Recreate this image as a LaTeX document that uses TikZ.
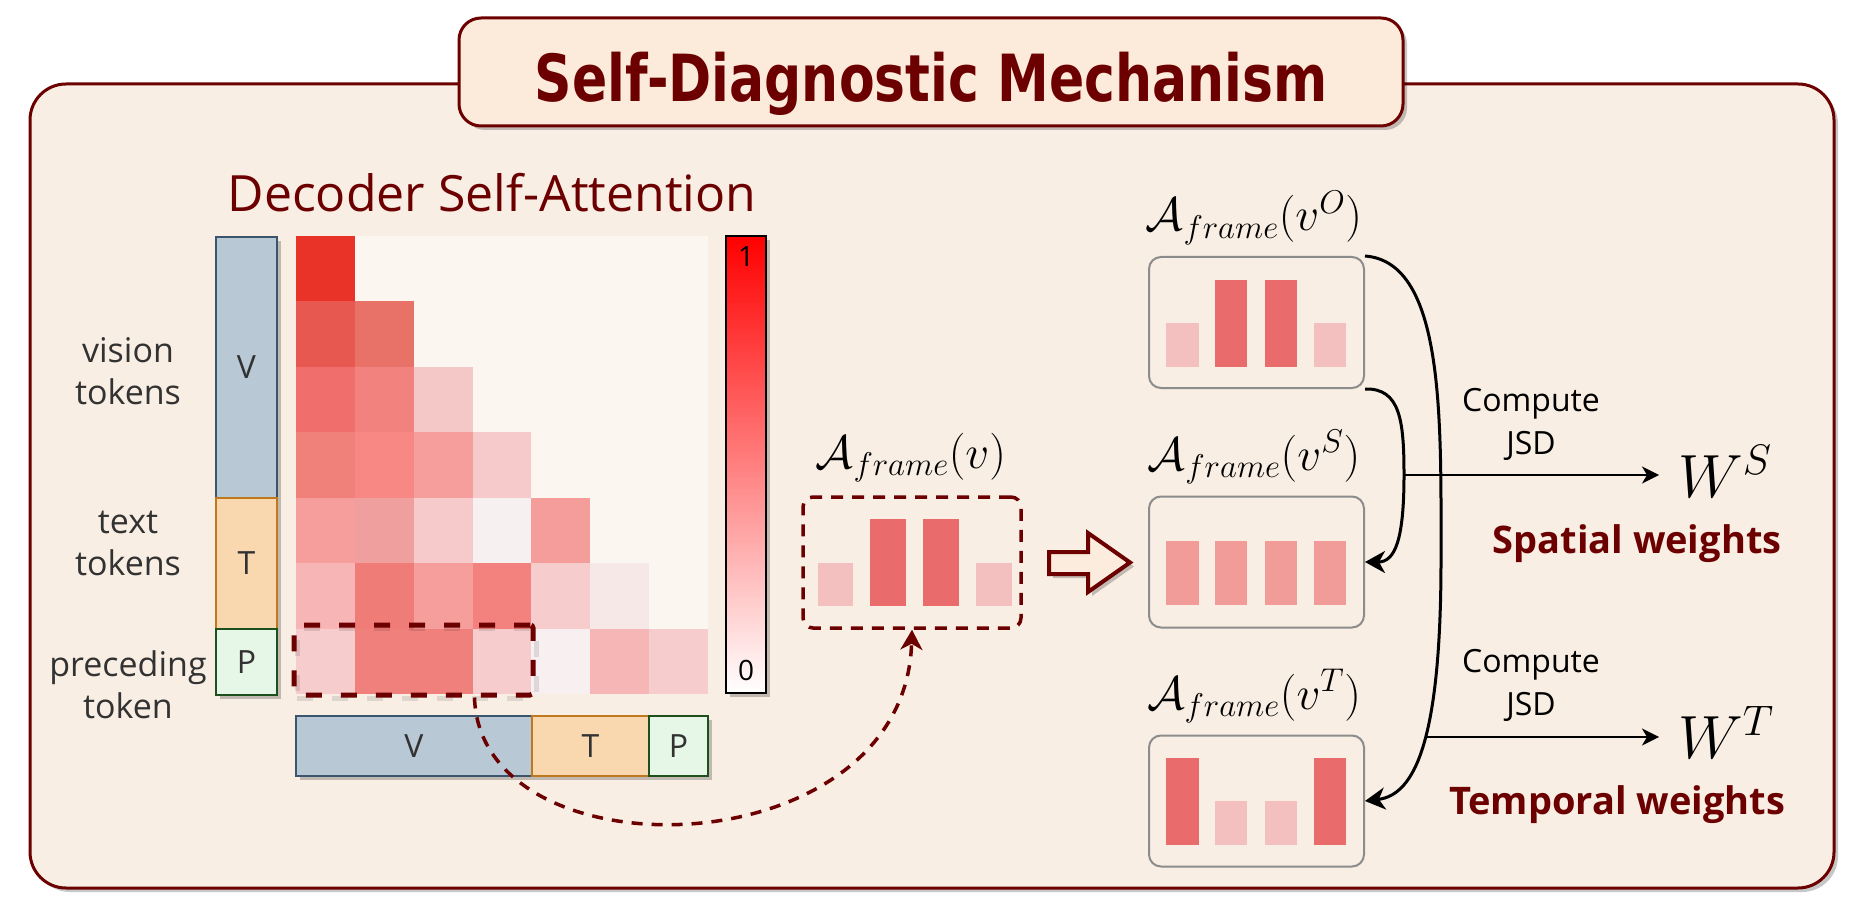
\RequirePackage{fix-cm}
\documentclass[tikz,border=0pt]{standalone}
\usepackage{fontspec}
\usepackage{graphicx}
\usetikzlibrary{arrows.meta,shadows,calc}
\newfontfamily\comic{Open Sans}
\newfontfamily\ttlfont{DejaVu Sans}
\definecolor{dred}{RGB}{108,0,0}
\definecolor{bgc}{RGB}{248,238,228}
\definecolor{ttlfill}{RGB}{252,235,218}
\definecolor{mbg}{RGB}{252,246,240}
\definecolor{vfill}{RGB}{184,200,212}
\definecolor{vline}{RGB}{60,85,110}
\definecolor{tfill}{RGB}{249,216,176}
\definecolor{tline}{RGB}{190,120,30}
\definecolor{pfill}{RGB}{230,247,232}
\definecolor{pline}{RGB}{30,80,30}
\definecolor{bdark}{RGB}{234,107,107}
\definecolor{blight}{RGB}{244,191,191}
\definecolor{bmed}{RGB}{241,156,152}
\definecolor{txtgray}{RGB}{50,50,50}
\definecolor{rboxline}{RGB}{140,140,140}
\definecolor{harrowfill}{RGB}{251,236,222}
\begin{document}
\begin{tikzpicture}[x=1pt,y=-1pt,
  sh/.style={drop shadow={shadow xshift=4pt,shadow yshift=-4pt,opacity=0.22,fill=black}},
  tokbar/.style={draw=#1line,fill=#1fill,line width=2pt,sh,inner sep=0,text=txtgray,
     font=\comic\fontsize{32}{36}\selectfont},
  sidelbl/.style={align=center,text=txtgray,font=\comic\fontsize{34}{42}\selectfont},
  rbox/.style={draw=rboxline,fill=bgc,line width=2pt,rounded corners=12pt,
     minimum width=215pt,minimum height=131pt,inner sep=0},
  mathlbl/.style={anchor=base,inner sep=0,font=\fontsize{47}{52}\selectfont},
  curv/.style={line width=3pt,-{Stealth[length=20pt,width=22pt,inset=6pt]}},
  harrow/.style={line width=2pt,-{Stealth[length=17pt,width=17pt,inset=5pt]}},
  cjsd/.style={align=center,font=\comic\fontsize{32}{43}\selectfont},
  wlbl/.style={text=dred,font=\comic\bfseries\fontsize{38}{44}\selectfont},
]
\useasboundingbox (0,0) rectangle (1876,917);
% outer frame
\node[draw=dred,line width=3pt,fill=bgc,rounded corners=36pt,minimum width=1804pt,
  minimum height=804pt,sh,inner sep=0] (outer) at (932,486) {};
% title
\node[draw=dred,line width=3pt,fill=ttlfill,rounded corners=22pt,minimum width=944pt,
  minimum height=108pt,sh,inner sep=0] (titlebox) at (931,72) {};
\node[anchor=base,text=dred,inner sep=0,font=\ttlfont\bfseries\fontsize{65}{70}\selectfont]
  (title) at (931,102) {\scalebox{0.8}[1]{Self-Diagnostic Mechanism}};
% heading
\node[anchor=base,text=dred,inner sep=0,font=\comic\fontsize{50}{60}\selectfont]
  (dsa) at (492,212) {Decoder Self-Attention};
% heatmap
\fill[mbg] (296,236) rectangle (708,694);
\foreach \ci/\ri/\vr/\vg/\vb in {
 0/0/233/50/40,
 0/1/231/88/80, 1/1/233/114/104,
 0/2/240/110/108, 1/2/242/130/125, 2/2/245/200/200,
 0/3/240/128/122, 1/3/247/136/132, 2/3/246/158/155, 3/3/246/202/202,
 0/4/246/158/155, 1/4/239/160/158, 2/4/246/202/202, 3/4/247/240/240, 4/4/245/157/155,
 0/5/247/182/181, 1/5/240/124/120, 2/5/246/158/156, 3/5/243/130/126, 4/5/246/204/204, 5/5/246/232/230,
 0/6/246/204/204, 1/6/240/128/124, 2/6/240/128/124, 3/6/246/204/204, 4/6/248/240/240, 5/6/246/182/181, 6/6/246/204/204}
{
  \definecolor{cellc}{RGB}{\vr,\vg,\vb}
  \fill[cellc] ({296+58.86*\ci},{236+65.43*\ri}) rectangle ++(58.86,65.43);
}
% left token bars
\node[tokbar=v,minimum width=61pt,minimum height=261pt] (lv) at (246.5,367.5) {V};
\node[tokbar=t,minimum width=61pt,minimum height=131pt] (lt) at (246.5,563.5) {T};
\node[tokbar=p,minimum width=61pt,minimum height=66pt] (lp) at (246.5,662) {P};
% bottom token bars
\node[tokbar=v,minimum width=236pt,minimum height=60pt] (bv) at (414,746) {V};
\node[tokbar=t,minimum width=117pt,minimum height=60pt] (bt) at (590.5,746) {T};
\node[tokbar=p,minimum width=59pt,minimum height=60pt] (bp) at (678.5,746) {P};
% side labels
\node[sidelbl] (vis) at (128,371) {vision\\tokens};
\node[sidelbl] (txt) at (128,543) {text\\tokens};
\node[sidelbl] (pre) at (128,685) {preceding\\token};
% colour bar
\node[draw=black,line width=2.5pt,minimum width=40pt,minimum height=457pt,
  top color=red,bottom color=white,sh,inner sep=0] (cbar) at (746,464.5) {};
\node[font=\comic\fontsize{28}{32}\selectfont,inner sep=0] (cone) at (746,257) {1};
\node[font=\comic\fontsize{28}{32}\selectfont,inner sep=0] (czero) at (746,670) {0};
% selection box
\node[draw=black,opacity=0.1,line width=5pt,dash pattern=on 16pt off 19pt,
  minimum width=239pt,minimum height=70pt,inner sep=0] (selsh) at (416.5,663) {};
\node[draw=dred,line width=5pt,dash pattern=on 16pt off 19pt,rounded corners=3pt,
  minimum width=239pt,minimum height=70pt,inner sep=0] (sel) at (413.5,660) {};
% A_frame(v)
\node[mathlbl] (aflbl) at (911,468) {$\mathcal{A}_{frame}(v)$};
\node[draw=dred,line width=3.5pt,dash pattern=on 12pt off 9pt,rounded corners=10pt,
  minimum width=218pt,minimum height=131pt,inner sep=0] (af) at (912,562.5) {};
\fill[blight] (818,563) rectangle (853,606);
\fill[bdark] (870,519) rectangle (906,606);
\fill[bdark] (923,519) rectangle (959,606);
\fill[blight] (976,563) rectangle (1012,606);
% dashed connector
\draw[dred,line width=3.5pt,dash pattern=on 11pt off 9pt,
  -{Stealth[length=20pt,width=22pt,inset=6pt]}]
  ($(sel.south)!0.5!(sel.south east)$) .. controls (480,880) and (905,870) .. (af.south);
% hollow arrow
\draw[dred,line width=4pt,fill=harrowfill,sh,line join=miter]
  (1049,552) -- (1088,552) -- (1088,533) -- (1130,562.5) -- (1088,592) -- (1088,574) -- (1049,574) -- cycle;
% right boxes
\node[mathlbl] (lo) at (1254,231) {$\mathcal{A}_{frame}(v^O)$};
\node[mathlbl] (ls) at (1254,470) {$\mathcal{A}_{frame}(v^S)$};
\node[mathlbl] (lT) at (1254,709) {$\mathcal{A}_{frame}(v^T)$};
\node[rbox] (box1) at (1256.5,322.5) {};
\node[rbox] (box2) at (1256.5,562) {};
\node[rbox] (box3) at (1256.5,801) {};
% box1 bars
\fill[blight] (1166,323) rectangle (1199,367);
\fill[bdark] (1215,280) rectangle (1247,367);
\fill[bdark] (1265,280) rectangle (1297,367);
\fill[blight] (1314,323) rectangle (1346,367);
% box2 bars
\fill[bmed] (1166,541) rectangle (1199,605);
\fill[bmed] (1215,541) rectangle (1247,605);
\fill[bmed] (1265,541) rectangle (1297,605);
\fill[bmed] (1314,541) rectangle (1346,605);
% box3 bars
\fill[bdark] (1166,758) rectangle (1199,845);
\fill[blight] (1215,801) rectangle (1247,845);
\fill[blight] (1265,801) rectangle (1297,845);
\fill[bdark] (1314,758) rectangle (1346,845);
% curves
\draw[curv] (box1.north east) .. controls (1445,262) and (1441,420) .. (1441,560)
  .. controls (1441,740) and (1415,795) .. (box3.east);
\draw[curv] (box1.south east) .. controls (1400,388) and (1404,420) .. (1404,475)
  .. controls (1404,540) and (1395,562) .. (box2.east);
% outputs
\node[anchor=base west,inner sep=0,font=\fontsize{61}{66}\selectfont] (WS) at (1678,497) {$W^S$};
\node[anchor=base west,inner sep=0,font=\fontsize{61}{66}\selectfont] (WT) at (1678,758) {$W^T$};
\coordinate (jS) at (1404,475);
\coordinate (jT) at (1426,737);
\draw[harrow,shorten >=19pt] (jS) -- (jS -| WS.west);
\draw[harrow,shorten >=19pt] (jT) -- (jT -| WT.west);
\node[cjsd] (c1) at (1531,424.5) {Compute\\JSD};
\node[cjsd] (c2) at (1531,685.5) {Compute\\JSD};
\node[wlbl] (sw) at (1637,544) {Spatial weights};
\node[wlbl] (tw) at (1617,805) {Temporal weights};
\end{tikzpicture}
\end{document}
